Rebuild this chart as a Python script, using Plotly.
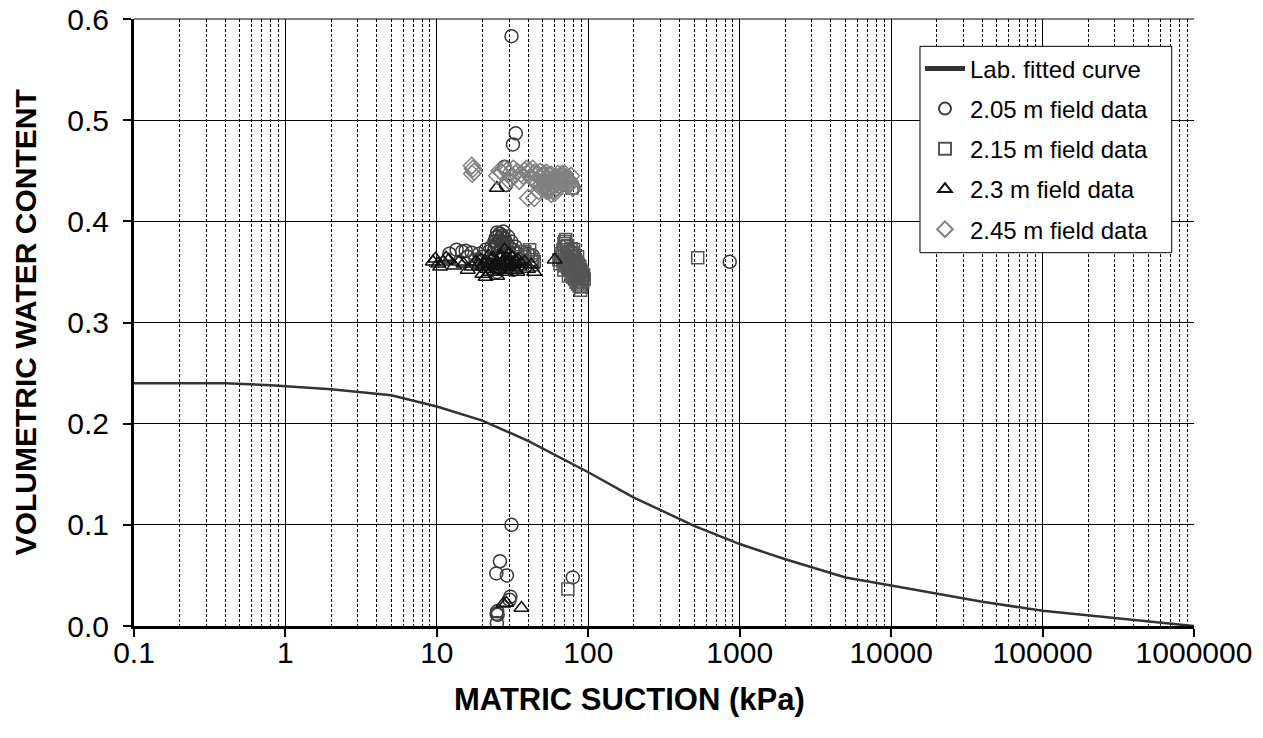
import plotly.graph_objects as go

# Lab fitted curve
curve_x = [0.1, 0.4, 0.8, 1, 2, 5, 10, 20, 40, 100, 200, 500, 1000, 2000, 5000, 10000, 40000, 100000, 300000, 1000000]
curve_y = [0.240, 0.240, 0.238, 0.237, 0.234, 0.228, 0.217, 0.203, 0.183, 0.152, 0.127, 0.099, 0.081, 0.066, 0.048, 0.040, 0.024, 0.015, 0.008, 0.0]

# 2.05 m field data (circles)
d205_x = [31.1, 33.2, 31.8, 28, 28.6, 80,
          12.1, 13.5, 14.7, 16, 18, 20, 22, 24, 25, 26, 27, 28, 29, 30, 32, 34, 23, 25.5, 27, 29, 31, 33, 35, 38, 26, 22,
          25, 26.5, 27.5, 24.5,
          24, 25, 26, 27, 28, 26.5, 24.5, 27.5, 29.5, 31, 30, 33, 36, 40, 43, 19, 21, 17, 15.5, 23, 28, 32, 25,
          859,
          31.1, 26.1, 24.7, 29, 79, 30.6, 30.2, 25, 24.8, 25.2, 24.9]
d205_y = [0.583, 0.487, 0.476, 0.454, 0.436, 0.433,
          0.368, 0.372, 0.370, 0.365, 0.362, 0.365, 0.370, 0.380, 0.385, 0.388, 0.386, 0.383, 0.378, 0.375, 0.372, 0.368, 0.375, 0.370, 0.366, 0.362, 0.358, 0.360, 0.362, 0.365, 0.355, 0.358,
          0.389, 0.384, 0.380, 0.377,
          0.372, 0.378, 0.381, 0.379, 0.374, 0.376, 0.384, 0.390, 0.385, 0.380, 0.370, 0.375, 0.370, 0.368, 0.366, 0.368, 0.372, 0.369, 0.371, 0.362, 0.357, 0.352, 0.350,
          0.360,
          0.100, 0.064, 0.052, 0.050, 0.048, 0.029, 0.026, 0.0145, 0.012, 0.011, 0.003]

# 2.15 m field data (squares)
d215_x = [70, 72, 68, 74, 76, 70, 72, 78, 80, 74, 76, 82, 84, 86, 88, 80, 78, 66, 64, 82, 85, 88, 90, 92, 90, 86, 84, 72, 75, 68, 70,
          69, 71, 73, 77, 79, 81, 83, 87, 89, 91, 93, 94, 67, 65, 71, 73, 77, 79, 81, 83, 85, 87, 89, 69, 75, 80, 85, 74,
          40, 42, 38, 36, 43, 44, 41,
          528, 73.3, 78]
d215_y = [0.380, 0.375, 0.372, 0.370, 0.368, 0.366, 0.364, 0.362, 0.360, 0.358, 0.356, 0.355, 0.352, 0.350, 0.348, 0.350, 0.365, 0.368, 0.362, 0.362, 0.358, 0.355, 0.345, 0.340, 0.335, 0.342, 0.345, 0.358, 0.352, 0.360, 0.356,
          0.378, 0.382, 0.376, 0.373, 0.369, 0.366, 0.360, 0.356, 0.352, 0.350, 0.347, 0.343, 0.365, 0.358, 0.360, 0.354, 0.348, 0.345, 0.343, 0.340, 0.338, 0.336, 0.332, 0.352, 0.362, 0.372, 0.365, 0.346,
          0.367, 0.362, 0.370, 0.365, 0.357, 0.360, 0.372,
          0.364, 0.0366, 0.433]

# 2.3 m field data (triangles)
d230_x = [9.4, 9.8, 10.2, 11, 12, 13, 14, 15, 16, 17, 18, 19, 20, 21, 22, 23, 24, 25, 26, 27, 28, 29, 30, 31, 32, 33, 34, 35,
          20, 24, 28, 22, 26, 30, 25, 21,
          19.5, 20.5, 21.5, 22.5, 23.5, 24.5, 25.5, 26.5, 27.5, 28.5, 29.5, 30.5, 31.5, 32.5, 33.5, 34.5, 36, 38, 40, 42, 44, 11.5, 10.5,
          60, 24.9, 28.8, 36.2, 27.5]
d230_y = [0.360, 0.363, 0.358, 0.360, 0.362, 0.356, 0.360, 0.358, 0.352, 0.355, 0.360, 0.357, 0.355, 0.360, 0.358, 0.362, 0.356, 0.360, 0.364, 0.358, 0.355, 0.360, 0.362, 0.357, 0.354, 0.360, 0.350, 0.355,
          0.348, 0.350, 0.372, 0.366, 0.352, 0.368, 0.346, 0.345,
          0.362, 0.358, 0.353, 0.350, 0.364, 0.357, 0.353, 0.366, 0.361, 0.350, 0.356, 0.352, 0.365, 0.358, 0.352, 0.362, 0.358, 0.360, 0.353, 0.357, 0.350, 0.364, 0.355,
          0.362, 0.433, 0.0227, 0.0178, 0.022]

# 2.45 m field data (diamonds)
d245_x = [17, 17.3, 17.6, 17.1, 25, 27, 28, 29, 30, 32, 34, 36, 38, 40, 42, 44, 45, 46, 48, 50, 52, 54, 55, 56, 58, 60, 62, 64, 66, 68, 70, 72, 74, 76,
          50, 53, 57, 47, 40, 44, 79, 35, 30,
          46, 48, 51, 53, 55, 57, 59, 61, 63, 65, 67, 69, 71, 73, 75, 77, 49, 51, 53, 56, 59, 62, 65, 68, 60, 57, 26, 31, 33, 37, 39, 41, 43]
d245_y = [0.455, 0.452, 0.449, 0.447, 0.445, 0.448, 0.452, 0.450, 0.447, 0.452, 0.449, 0.447, 0.450, 0.447, 0.443, 0.448, 0.440, 0.437, 0.444, 0.440, 0.436, 0.433, 0.430, 0.438, 0.435, 0.440, 0.437, 0.443, 0.440, 0.445, 0.447, 0.443, 0.441, 0.437,
          0.445, 0.442, 0.446, 0.430, 0.423, 0.423, 0.433, 0.440, 0.440,
          0.447, 0.449, 0.447, 0.448, 0.446, 0.441, 0.442, 0.444, 0.447, 0.445, 0.447, 0.442, 0.438, 0.436, 0.440, 0.445, 0.437, 0.433, 0.430, 0.432, 0.431, 0.433, 0.435, 0.438, 0.428, 0.427, 0.450, 0.443, 0.447, 0.445, 0.452, 0.450, 0.452]

x_tickvals = [0.1, 1, 10, 100, 1000, 10000, 100000, 1000000]
x_ticktext = ["0.1", "1", "10", "100", "1000", "10000", "100000", "1000000"]
y_tickvals = [0.0, 0.1, 0.2, 0.3, 0.4, 0.5, 0.6]
y_ticktext = ["0.0", "0.1", "0.2", "0.3", "0.4", "0.5", "0.6"]

FONT = "Liberation Sans, Arial, sans-serif"
MS = 13

fig = go.Figure()
fig.add_trace(go.Scatter(x=curve_x, y=curve_y, mode="lines", name="Lab. fitted curve", legendgroup="a",
                         line=dict(color="#333333", width=2.5)))
fig.add_trace(go.Scatter(x=d205_x, y=d205_y, mode="markers", name="2.05 m field data", legendgroup="b",
                         marker=dict(symbol="circle-open", size=MS, color="#3a3a3a", line=dict(width=1.5))))
fig.add_trace(go.Scatter(x=d215_x, y=d215_y, mode="markers", name="2.15 m field data", legendgroup="c",
                         marker=dict(symbol="square-open", size=MS - 1, color="#555555", line=dict(width=1.5))))
fig.add_trace(go.Scatter(x=d230_x, y=d230_y, mode="markers", name="2.3 m field data", legendgroup="d",
                         marker=dict(symbol="triangle-up-open", size=MS, color="#111111", line=dict(width=1.5))))
fig.add_trace(go.Scatter(x=d245_x, y=d245_y, mode="markers", name="2.45 m field data", legendgroup="e",
                         marker=dict(symbol="diamond-open", size=MS, color="#808080", line=dict(width=1.5))))

fig.update_layout(
    width=1263, height=738,
    margin=dict(l=134, r=69, t=19, b=112),
    paper_bgcolor="white", plot_bgcolor="white",
    font=dict(family=FONT, color="black", size=24),
    showlegend=True,
    hovermode=False,
    legend=dict(x=0.7415, y=0.955, xanchor="left", yanchor="top",
                bgcolor="rgba(0,0,0,0)", borderwidth=0,
                font=dict(size=24, family=FONT), itemsizing="constant", itemwidth=40,
                tracegroupgap=6),
    shapes=[
        dict(type="line", xref="paper", yref="paper", x0=0, x1=1, y0=1, y1=1,
             line=dict(color="black", width=1), layer="below"),
        dict(type="rect", xref="paper", yref="paper", x0=0.7415, x1=0.979, y0=0.615, y1=0.955,
             fillcolor="white", line=dict(color="black", width=1), layer="above"),
    ],
    xaxis=dict(type="log", range=[-1, 6], automargin=False,
               tickmode="array", tickvals=x_tickvals, ticktext=x_ticktext,
               ticks="outside", ticklen=8, tickwidth=2, tickcolor="black",
               ticklabelstandoff=-10, ticklabeloverflow="allow",
               showline=True, linecolor="black", linewidth=3,
               showgrid=True, gridcolor="black", gridwidth=1,
               minor=dict(dtick="D1", showgrid=True, gridcolor="black", griddash="3px,2px", gridwidth=1, ticks=""),
               tickfont=dict(size=30),
               zeroline=False),
    yaxis=dict(range=[0, 0.6], automargin=False,
               tickmode="array", tickvals=y_tickvals, ticktext=y_ticktext,
               ticks="outside", ticklen=8, tickwidth=2, tickcolor="black",
               ticklabelstandoff=8, ticklabeloverflow="allow",
               showline=True, linecolor="black", linewidth=3,
               showgrid=True, gridcolor="black", gridwidth=1,
               tickfont=dict(size=30),
               zeroline=False),
    annotations=[
        dict(text="<b>MATRIC SUCTION (kPa)</b>", xref="paper", yref="paper",
             x=0.467, y=-0.1203, xanchor="center", yanchor="middle", showarrow=False,
             font=dict(size=31, family=FONT, color="black")),
        dict(text="<b>VOLUMETRIC WATER CONTENT</b>", xref="paper", yref="paper",
             x=-0.102, y=0.5, xanchor="center", yanchor="middle", showarrow=False, textangle=-90,
             font=dict(size=30, family=FONT, color="black")),
    ],
)

# remove the browser's default 8px body margin so the figure fills the window exactly
fig.write_html("out.html", config={"displayModeBar": False, "staticPlot": True},
               post_script="document.body.style.margin='0px';")
